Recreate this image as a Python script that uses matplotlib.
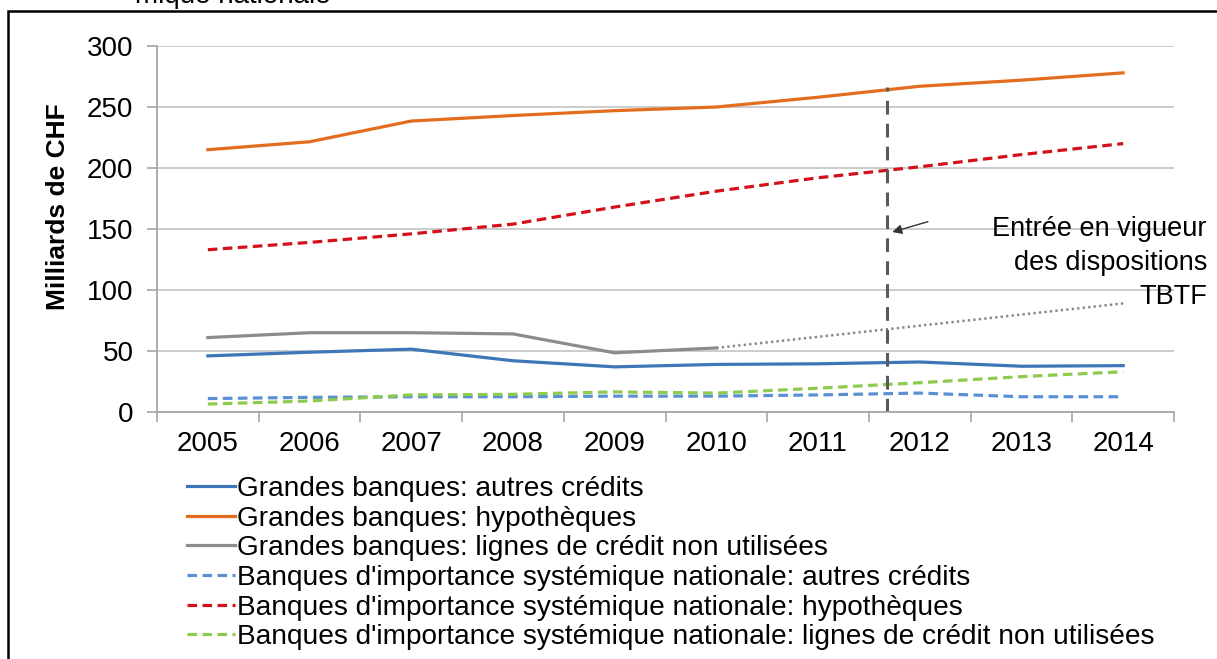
import matplotlib
matplotlib.use("Agg")
import matplotlib.pyplot as plt
from matplotlib.patches import Rectangle

plt.rcParams['font.family'] = ['Liberation Sans', 'DejaVu Sans']

years = ['2005', '2006', '2007', '2008', '2009', '2010', '2011', '2012', '2013', '2014']
gb_autres = [46, 49, 51.5, 42, 37, 39, 39.5, 41, 37.5, 38]
gb_hypo = [215, 221.5, 238.5, 243, 247, 250, 258, 267, 272, 278]
gb_lignes = [61, 65, 65, 64, 48.5, 52.5]
gb_lignes_proj_years = ['2010', '2014']
gb_lignes_proj = [52.5, 89]
bisn_autres = [11, 12, 12.5, 12.5, 13, 13, 14, 15.5, 12.5, 12.5]
bisn_hypo = [133, 139, 146, 154, 168, 181, 192, 201, 211, 220]
bisn_lignes = [6.5, 9, 14, 14.5, 16.5, 15.5, 19.5, 24, 29, 33]
labels = [
    "Grandes banques: autres crédits",
    "Grandes banques: hypothèques",
    "Grandes banques: lignes de crédit non utilisées",
    "Banques d'importance systémique nationale: autres crédits",
    "Banques d'importance systémique nationale: hypothèques",
    "Banques d'importance systémique nationale: lignes de crédit non utilisées",
]
tbtf_pos = 6.68
tbtf_top = 266

W, H = 1217, 659
fig = plt.figure(figsize=(W / 100, H / 100), dpi=100)
ax = fig.add_axes([157 / W, 1 - 412 / H, (1174 - 157) / W, (412 - 46) / H])

x = list(range(len(years)))
idx = {y: i for i, y in enumerate(years)}

c_blue = '#3E76B8'
c_orange = '#E36C1E'
c_gray = '#8C8C8C'
c_blue_d = '#5B90D2'
c_red = '#D4111B'
c_green = '#8DCB4E'

lw = 2.3
l1, = ax.plot(x, gb_autres, color=c_blue, lw=lw, label=labels[0])
l2, = ax.plot(x, gb_hypo, color=c_orange, lw=lw, label=labels[1])
l3, = ax.plot(x[:len(gb_lignes)], gb_lignes, color=c_gray, lw=lw, label=labels[2])
ax.plot([idx[y] for y in gb_lignes_proj_years], gb_lignes_proj, color='#858585', lw=1.8,
        dashes=(0.9, 1.3))
l4, = ax.plot(x, bisn_autres, color=c_blue_d, lw=lw, dashes=(3, 1.7), label=labels[3])
l5, = ax.plot(x, bisn_hypo, color=c_red, lw=lw, dashes=(3, 1.7), label=labels[4])
l6, = ax.plot(x, bisn_lignes, color=c_green, lw=lw, dashes=(3, 1.7), label=labels[5])

ax.plot([tbtf_pos, tbtf_pos], [0, tbtf_top], color='#5A5A5A', lw=2.2, dashes=(4.5, 3))

ax.annotate('', xy=(6.73, 147.5), xytext=(7.08, 156),
            arrowprops=dict(arrowstyle='-|>', color='#333333', lw=1.0,
                            mutation_scale=14, shrinkA=0, shrinkB=0))

ax.set_xlim(-0.5, len(years) - 0.5)
ax.set_ylim(0, 300)
ax.set_yticks(range(0, 301, 50))
ax.yaxis.grid(True, color='#C8C8C8', lw=1.3)
ax.set_axisbelow(True)
ax.set_xticks([i - 0.5 for i in range(len(years) + 1)])
ax.set_xticklabels([])
ax.set_xticks(x, minor=True)
ax.set_xticklabels(years, minor=True)
ax.tick_params(axis='x', which='major', length=7, width=1.2, color='#A6A6A6', direction='out')
ax.tick_params(axis='x', which='minor', length=0, pad=14, labelsize=20)
ax.tick_params(axis='y', length=7, width=1.2, color='#A6A6A6', labelsize=20, pad=10)
for s in ['top', 'right']:
    ax.spines[s].set_visible(False)
for s in ['left', 'bottom']:
    ax.spines[s].set_color('#A6A6A6')
    ax.spines[s].set_linewidth(1.3)

ax.set_ylabel('Milliards de CHF', fontsize=19, fontweight='bold')
ax.yaxis.set_label_coords(-(157 - 70) / (1174 - 157), (412 - 207) / (412 - 46))

fig.text(1207 / W, 1 - 263 / H, "Entrée en vigueur\ndes dispositions\nTBTF",
         ha='right', va='center', multialignment='right', fontsize=19.5, linespacing=1.38)

fig.text(135 / W, 1 - 3 / H, "mique nationale", ha='left', va='baseline', fontsize=20)

leg = fig.legend(handles=[l1, l2, l3, l4, l5, l6], loc='upper left',
                 bbox_to_anchor=(187 / W, 1 - 476 / H), frameon=False,
                 fontsize=20.15, handlelength=1.7, handletextpad=0.08,
                 labelspacing=0.13, borderpad=0, borderaxespad=0)

fig.add_artist(Rectangle((8 / W, -0.1), 1.2, 1.1 - 11 / H, transform=fig.transFigure,
                         fill=False, edgecolor='black', lw=1.8, clip_on=False))

fig.savefig('out.png', dpi=100)
